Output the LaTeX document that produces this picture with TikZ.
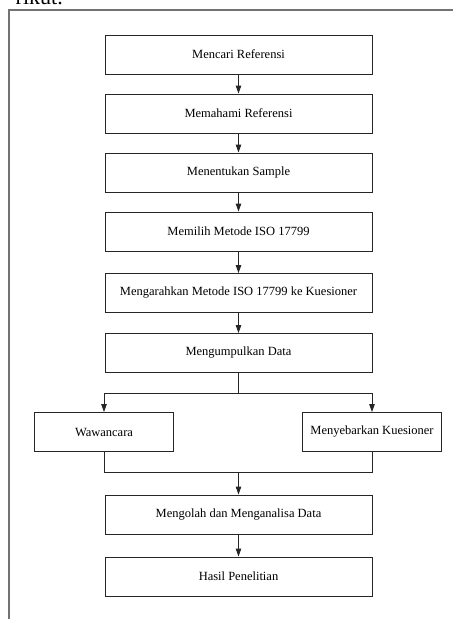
\documentclass[tikz,border=0pt]{standalone}
\usepackage{fontspec}
\setmainfont{Liberation Serif}
\usetikzlibrary{arrows.meta}
\begin{document}
\begin{tikzpicture}[x=1pt,y=-1pt,
  box/.style={draw=black!85,line width=0.9pt,minimum height=39pt,inner sep=0pt,font=\fontsize{12.5}{14}\selectfont},
  wide/.style={box,minimum width=267pt},
  side/.style={box,minimum width=139pt},
  arr/.style={-{Triangle[length=8pt,width=5.5pt]},line width=0.9pt,draw=black!85},
  ln/.style={line width=0.9pt,draw=black!85},
  frame/.style={draw=black!55,line width=2pt}]
\useasboundingbox (0,0) rectangle (453,619);
\clip (0,0) rectangle (453,619);
\node[anchor=base east,inner sep=0pt,font=\fontsize{22}{24}\selectfont] (cap) at (63,4) {rikut.};
\draw[frame] (9,619) -- (9,10) -- (453,10);
\node[wide] (b1) at (238.5,54.5) {Mencari Referensi};
\node[wide] (b2) at (238.5,113.5) {Memahami Referensi};
\node[wide] (b3) at (238.5,172.5) {Menentukan Sample};
\node[wide] (b4) at (238.5,231.5) {Memilih Metode ISO 17799};
\node[wide] (b5) at (238.5,293) {Mengarahkan Metode ISO 17799 ke Kuesioner};
\node[wide] (b6) at (238.5,353) {Mengumpulkan Data};
\node[side] (w) at (104,432) {Wawancara};
\node[side] (k) at (372,432) {Menyebarkan Kuesioner};
\node[wide] (b7) at (238.5,514.5) {Mengolah dan Menganalisa Data};
\node[wide] (b8) at (238.5,576.5) {Hasil Penelitian};
\coordinate (s) at (238.5,393);
\coordinate (m) at (238.5,472);
\draw[arr] (b1) -- (b2);
\draw[arr] (b2) -- (b3);
\draw[arr] (b3) -- (b4);
\draw[arr] (b4) -- (b5);
\draw[arr] (b5) -- (b6);
\draw[ln] (b6.south) -- (s);
\draw[arr] (s) -| (w.north);
\draw[arr] (s) -| (k.north);
\draw[ln] (w.south) |- (m);
\draw[ln] (k.south) |- (m);
\draw[arr] (m) -- (b7.north);
\draw[arr] (b7) -- (b8);
\end{tikzpicture}
\end{document}
